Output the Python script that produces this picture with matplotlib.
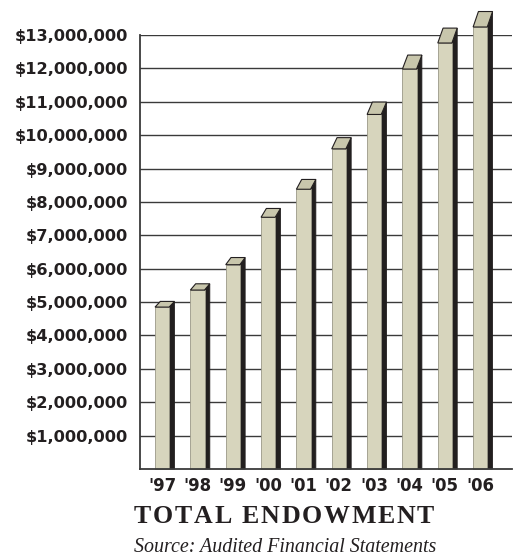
import matplotlib
matplotlib.use("Agg")
import numpy as np
import matplotlib.pyplot as plt
from matplotlib.patches import Polygon
from matplotlib.ticker import FuncFormatter

# values (dollars)
years = ["'97", "'98", "'99", "'00", "'01", "'02", "'03", "'04", "'05", "'06"]
endowment = [4850000, 5360000, 6120000, 7540000, 8380000,
             9590000, 10620000, 11980000, 12760000, 13240000]
y_ticks = [1000000 * k for k in range(1, 14)]

FRONT = '#d7d5bd'
TOP = '#c8c6ac'
SIDE = '#221f1f'
INK = '#231f20'

W, H = 523, 557
fig = plt.figure(figsize=(W/100, H/100), dpi=100)
ax = fig.add_axes([140/W, 1-469/H, (512-140)/W, (469-35)/H])

half = 0.2      # half width of the front face
depth = 0.15    # side depth in x units
persp = 1.035   # back edge of the top sits a bit higher

for i, v in enumerate(endowment):
    x0, x1 = i - half, i + half
    vb = v * persp
    front = Polygon([(x0, 0), (x1, 0), (x1, v), (x0, v)], closed=True,
                    facecolor=FRONT, edgecolor='#9a9888', linewidth=0.6,
                    zorder=3, clip_on=False)
    side = Polygon([(x1, 0), (x1 + depth, 0), (x1 + depth, vb), (x1, v)],
                   closed=True, facecolor=SIDE, edgecolor=SIDE, linewidth=0.6,
                   zorder=3, clip_on=False)
    top = Polygon([(x0, v), (x1, v), (x1 + depth, vb), (x0 + depth, vb)],
                  closed=True, facecolor=TOP, edgecolor=INK, linewidth=0.8,
                  zorder=4, clip_on=False)
    ax.add_patch(side)
    ax.add_patch(front)
    ax.add_patch(top)

ax.set_xlim(-0.625, 9.9)
ax.set_ylim(0, 13000000)
ax.set_yticks(y_ticks)
ax.yaxis.set_major_formatter(FuncFormatter(lambda v, p: '${:,.0f}'.format(v)))
ax.set_xticks(range(len(years)))
ax.set_xticklabels(years)

ax.grid(axis='y', color='#3a3a3a', linewidth=1.0)
ax.set_axisbelow(True)
for s in ['top', 'right']:
    ax.spines[s].set_visible(False)
for s in ['left', 'bottom']:
    ax.spines[s].set_color('#3a3a3a')
    ax.spines[s].set_linewidth(1.3)
    ax.spines[s].set_zorder(5)

ax.tick_params(axis='y', length=0, pad=8.6, labelsize=11.7, labelcolor=INK)
ax.tick_params(axis='x', length=0, pad=6.0, labelsize=11.9, labelcolor=INK)
for lab in ax.get_xticklabels() + ax.get_yticklabels():
    lab.set_fontweight('bold')
    lab.set_family('DejaVu Sans')


def tracked_text(s, xc, yb, track, **kw):
    """letter-spaced text centred at xc (pixels), baseline at yb (pixels)"""
    r = fig.canvas.get_renderer()
    widths = []
    for ch in s:
        t = fig.text(0, 0, ch if ch != ' ' else 'n', **kw)
        widths.append(t.get_window_extent(r).width * (0.5 if ch == ' ' else 1))
        t.remove()
    total = sum(widths) + track * (len(s) - 1)
    x = xc - total / 2
    for ch, w in zip(s, widths):
        if ch != ' ':
            fig.text(x / W, 1 - yb / H, ch, ha='left', va='baseline', **kw)
        x += w + track


tracked_text('TOTAL ENDOWMENT', 284, 523, 1.7, family='Liberation Serif',
             fontweight='bold', fontsize=18.6, color=INK)
fig.text(285/W, 1-552/H, 'Source: Audited Financial Statements',
         ha='center', va='baseline', family='Liberation Serif',
         style='italic', fontsize=14.4, color=INK)

fig.savefig('out.png', dpi=100)
